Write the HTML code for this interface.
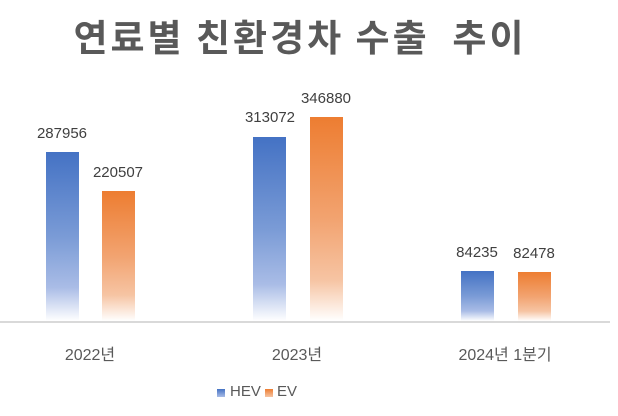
<!DOCTYPE html>
<html><head><meta charset="utf-8"><style>
body{margin:0;width:618px;height:416px;background:#fff;position:relative;overflow:hidden;font-family:"Liberation Sans","Noto Sans CJK KR",sans-serif;color:#404040}
.t{position:absolute;left:0;width:600px;text-align:center;top:8px;font-size:37px;font-weight:bold;color:#595959;letter-spacing:3px;font-family:"Noto Sans CJK KR","NanumGothic",sans-serif;white-space:pre}
.b{position:absolute;width:33px;bottom:95px}
.h{background:linear-gradient(to bottom,#4472c4 0%,#7a9bd6 50%,#a9bce6 80%,#fff 100%)}
.e{background:linear-gradient(to bottom,#ed7d31 0%,#f2a370 50%,#f6c4a3 80%,#fff 100%)}
.l{position:absolute;font-size:15px;width:80px;text-align:center;color:#404040}
.c{position:absolute;font-size:16px;width:160px;text-align:center;top:341px;color:#595959}
.ax{position:absolute;left:0;width:610px;top:321px;height:2px;background:#d9d9d9}
</style></head><body>
<div class="t">연료별 친환경차 수출  추이</div>
<div class="b h" style="left:46px;height:169px"></div>
<div class="b e" style="left:102px;height:130px"></div>
<div class="b h" style="left:253px;height:184px"></div>
<div class="b e" style="left:310px;height:204px"></div>
<div class="b h" style="left:461px;height:50px"></div>
<div class="b e" style="left:518px;height:49px"></div>
<div class="ax"></div>
<div class="l" style="left:22px;top:125px">287956</div>
<div class="l" style="left:78px;top:164px">220507</div>
<div class="l" style="left:230px;top:109px">313072</div>
<div class="l" style="left:286px;top:90px">346880</div>
<div class="l" style="left:437px;top:244px">84235</div>
<div class="l" style="left:494px;top:245px">82478</div>
<div class="c" style="left:10px">2022년</div>
<div class="c" style="left:217px">2023년</div>
<div class="c" style="left:425px">2024년 1분기</div>
<div style="position:absolute;left:217px;top:389px;width:8px;height:8px;background:linear-gradient(#4472c4,#a9bce6)"></div>
<div style="position:absolute;left:230px;top:383px;font-size:15px;color:#595959">HEV</div>
<div style="position:absolute;left:265px;top:389px;width:8px;height:8px;background:linear-gradient(#ed7d31,#f6c4a3)"></div>
<div style="position:absolute;left:277px;top:383px;font-size:15px;color:#595959">EV</div>
</body></html>
